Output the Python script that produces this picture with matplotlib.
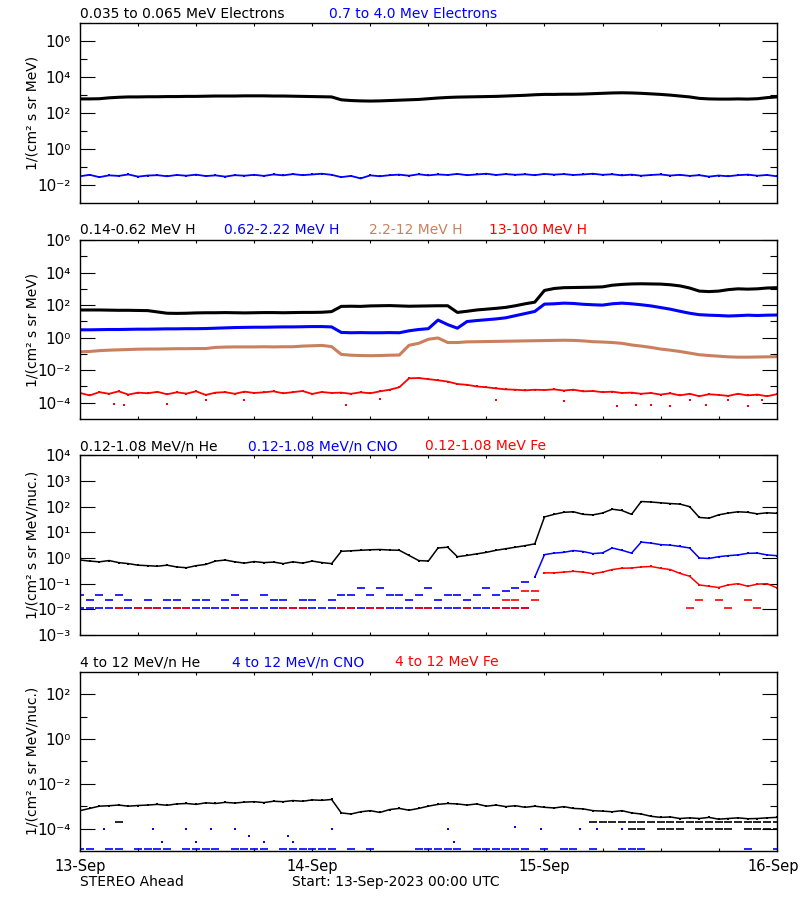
import numpy as np
import matplotlib
matplotlib.use('Agg')
import matplotlib.pyplot as plt
import matplotlib.transforms as mtransforms
from matplotlib.ticker import FixedLocator, FuncFormatter, NullFormatter

nan = np.nan

# ---------------- time axis (hours since 13-Sep-2023 00:00 UTC) ----------------
hours = np.arange(73)
day_hours = [0, 24, 48, 72]
day_labels = ['13-Sep', '14-Sep', '15-Sep', '16-Sep']

# ---------------- panel 1: electrons (log10 flux) ----------------
elec_low_log = [2.79, 2.79, 2.80, 2.85, 2.88, 2.90, 2.90, 2.91, 2.91, 2.92,
                2.92, 2.93, 2.93, 2.94, 2.95, 2.95, 2.95, 2.96, 2.96, 2.96,
                2.95, 2.95, 2.94, 2.93, 2.92, 2.91, 2.90, 2.74, 2.70, 2.68,
                2.67, 2.68, 2.70, 2.72, 2.74, 2.76, 2.80, 2.84, 2.87, 2.89,
                2.90, 2.91, 2.92, 2.93, 2.95, 2.97, 2.99, 3.02, 3.04, 3.04,
                3.05, 3.05, 3.06, 3.08, 3.10, 3.12, 3.13, 3.12, 3.10, 3.07,
                3.04, 3.00, 2.95, 2.90, 2.82, 2.79, 2.78, 2.78, 2.79, 2.78,
                2.80, 2.86, 2.90]
elec_high_log = [-1.50, -1.42, -1.55, -1.45, -1.48, -1.40, -1.52, -1.46, -1.44, -1.50,
                 -1.43, -1.47, -1.41, -1.49, -1.45, -1.52, -1.44, -1.47, -1.42, -1.48,
                 -1.40, -1.45, -1.38, -1.44, -1.40, -1.36, -1.42, -1.55, -1.48, -1.62,
                 -1.45, -1.50, -1.44, -1.41, -1.47, -1.39, -1.45, -1.40, -1.43, -1.37,
                 -1.44, -1.40, -1.36, -1.43, -1.38, -1.42, -1.39, -1.44, -1.37, -1.41,
                 -1.38, -1.43, -1.40, -1.36, -1.42, -1.39, -1.45, -1.41, -1.47, -1.43,
                 -1.40, -1.46, -1.42, -1.48, -1.44, -1.52, -1.46, -1.50, -1.44, -1.41,
                 -1.47, -1.43, -1.50]

# ---------------- panel 2: protons (log10 flux) ----------------
h_014_log = [1.70, 1.70, 1.70, 1.69, 1.68, 1.68, 1.67, 1.66, 1.58, 1.50,
             1.49, 1.50, 1.52, 1.53, 1.53, 1.54, 1.53, 1.52, 1.53, 1.54,
             1.54, 1.53, 1.54, 1.55, 1.55, 1.56, 1.60, 1.92, 1.93, 1.92,
             1.95, 1.96, 1.97, 1.95, 1.93, 1.94, 1.95, 1.96, 1.96, 1.55,
             1.62, 1.70, 1.75, 1.80, 1.86, 1.96, 2.08, 2.18, 2.90, 3.02,
             3.07, 3.08, 3.09, 3.10, 3.12, 3.22, 3.27, 3.30, 3.31, 3.30,
             3.29, 3.25, 3.18, 3.05, 2.86, 2.83, 2.86, 2.95, 3.00, 2.98,
             3.00, 3.05, 3.07]
h_062_log = [0.48, 0.48, 0.49, 0.50, 0.50, 0.51, 0.52, 0.52, 0.53, 0.54,
             0.54, 0.55, 0.55, 0.56, 0.58, 0.60, 0.62, 0.63, 0.64, 0.64,
             0.65, 0.66, 0.66, 0.67, 0.68, 0.68, 0.66, 0.32, 0.30, 0.31,
             0.30, 0.30, 0.31, 0.30, 0.42, 0.50, 0.55, 1.08, 0.80, 0.58,
             0.99, 1.05, 1.10, 1.15, 1.22, 1.35, 1.48, 1.61, 2.06, 2.08,
             2.12, 2.10, 2.05, 2.02, 2.00, 2.08, 2.12, 2.08, 2.02, 1.95,
             1.85, 1.75, 1.62, 1.50, 1.41, 1.38, 1.36, 1.33, 1.35, 1.38,
             1.36, 1.38, 1.39]
h_22_log = [-0.87, -0.85, -0.80, -0.77, -0.75, -0.73, -0.71, -0.70, -0.70, -0.69,
            -0.68, -0.68, -0.67, -0.67, -0.60, -0.58, -0.57, -0.57, -0.57, -0.56,
            -0.57, -0.56, -0.56, -0.52, -0.50, -0.48, -0.55, -1.03, -1.08, -1.10,
            -1.11, -1.10, -1.08, -1.07, -0.47, -0.35, -0.10, -0.02, -0.30, -0.30,
            -0.26, -0.25, -0.24, -0.23, -0.22, -0.21, -0.20, -0.19, -0.18, -0.17,
            -0.16, -0.17, -0.20, -0.25, -0.27, -0.30, -0.35, -0.45, -0.52, -0.60,
            -0.70, -0.77, -0.85, -0.95, -1.05, -1.10, -1.14, -1.18, -1.20, -1.20,
            -1.19, -1.18, -1.17]
h_13_log = [-3.40, -3.55, -3.35, -3.45, -3.30, -3.50, -3.38, -3.42, -3.33, -3.48,
            -3.36, -3.44, -3.30, -3.52, -3.38, -3.35, -3.45, -3.32, -3.40, -3.36,
            -3.30, -3.42, -3.35, -3.28, -3.46, -3.34, -3.40, -3.38, -3.45, -3.36,
            -3.42, -3.30, -3.20, -3.05, -2.50, -2.48, -2.55, -2.62, -2.70, -2.85,
            -2.90, -3.00, -3.05, -3.12, -3.18, -3.20, -3.24, -3.20, -3.22, -3.18,
            -3.25, -3.20, -3.30, -3.28, -3.35, -3.32, -3.40, -3.38, -3.45, -3.40,
            -3.50, -3.42, -3.55, -3.45, -3.60, -3.48, -3.52, -3.58, -3.45, -3.55,
            -3.50, -3.60, -3.48]
h_13_low_hours = [3.5, 4.5, 9, 13, 17, 27.5, 31, 43, 50, 55.5, 57.5, 59, 61, 63, 64.7, 67, 69, 70.5]
h_13_low_log = [-4.10, -4.15, -4.10, -3.85, -3.85, -4.15, -3.80, -3.85, -3.90,
                -4.18, -4.15, -4.15, -4.20, -3.85, -4.15, -3.85, -4.20, -3.85]

# ---------------- panel 3: 0.12-1.08 MeV/n heavy ions (log10 flux) ----------------
he_low_log = [-0.08, -0.12, -0.15, -0.10, -0.18, -0.22, -0.28, -0.30, -0.32, -0.28,
              -0.35, -0.38, -0.30, -0.25, -0.12, -0.08, -0.15, -0.20, -0.14, -0.18,
              -0.16, -0.22, -0.15, -0.20, -0.12, -0.18, -0.22, 0.26, 0.28, 0.30,
              0.32, 0.33, 0.31, 0.30, 0.10, -0.10, -0.12, 0.39, 0.42, 0.05,
              0.10, 0.16, 0.22, 0.30, 0.36, 0.42, 0.48, 0.55, 1.60, 1.70,
              1.78, 1.80, 1.70, 1.68, 1.75, 1.90, 1.85, 1.70, 2.20, 2.18,
              2.15, 2.12, 2.10, 2.00, 1.58, 1.55, 1.68, 1.75, 1.80, 1.78,
              1.72, 1.76, 1.74]
cno_low_log = [-1.94] * 47 + [
    -0.75, 0.13, 0.19, 0.22, 0.29, 0.25, 0.17, 0.20, 0.39, 0.30,
    0.19, 0.62, 0.58, 0.52, 0.50, 0.45, 0.39, 0.00, -0.02, 0.05,
    0.09, 0.12, 0.18, 0.19, 0.12, 0.09]
cno_low2_log = [-1.45, -1.62, -1.45, -1.62, -1.45, -1.62, nan, -1.62, nan, -1.62,
                -1.62, nan, -1.62, -1.62, nan, -1.62, -1.45, -1.62, nan, -1.45,
                -1.62, -1.62, nan, -1.62, -1.62, nan, -1.62, -1.45, -1.45, -1.16,
                -1.45, -1.16, -1.45, -1.45, -1.62, -1.45, -1.16, -1.62, -1.45, -1.45,
                -1.62, -1.45, -1.16, -1.45, -1.30, -1.16, -0.95] + [nan] * 26
fe_low_log = [nan, nan, nan, nan, -1.94, nan, -1.94, -1.94, -1.94, nan,
              -1.94, -1.94, nan, nan, nan, nan, -1.94, nan, nan, nan,
              nan, -1.94, -1.94, -1.94, nan, nan, nan, -1.94, -1.94, nan,
              -1.94, -1.94, nan, nan, nan, -1.94, -1.94, nan, nan, nan,
              -1.94, nan, nan, -1.94, -1.94, -1.94, -1.94, -1.62, -0.58, -0.58,
              -0.55, -0.52, -0.55, -0.61, -0.55, -0.45, -0.40, -0.39, -0.35, -0.33,
              -0.40, -0.45, -0.60, -0.71, -1.05, -1.10, -1.15, -1.05, -1.00, -1.10,
              -1.02, -1.00, -1.16]
fe_low2_hours = [44, 45, 46, 47, 63, 64, 66, 67, 69, 70]
fe_low2_log = [-1.62, -1.62, -1.30, -1.30, -1.94, -1.62, -1.62, -1.94, -1.62, -1.94]

# ---------------- panel 4: 4-12 MeV/n heavy ions (log10 flux) ----------------
he_high_log = [-3.20, -3.10, -3.00, -2.98, -2.95, -3.00, -2.97, -2.95, -2.92, -2.96,
               -2.90, -2.88, -2.92, -2.85, -2.88, -2.83, -2.86, -2.82, -2.80, -2.84,
               -2.78, -2.80, -2.75, -2.78, -2.72, -2.74, -2.70, -3.30, -3.35, -3.25,
               -3.20, -3.28, -3.15, -3.10, -3.18, -3.10, -3.00, -2.92, -2.88, -2.90,
               -2.95, -2.90, -3.00, -2.95, -3.02, -2.98, -3.05, -3.00, -3.05, -3.08,
               -3.02, -3.10, -3.12, -3.20, -3.22, -3.25, -3.20, -3.30, -3.35, -3.45,
               -3.50, -3.48, -3.55, -3.52, -3.55, -3.50, -3.58, -3.55, -3.52, -3.56,
               -3.55, -3.52, -3.50]
he_high_q1_log = [nan] * 4 + [-3.72] + [nan] * 48 + [-3.72] * 20
he_high_q0_log = [nan] * 57 + [-4.0, -4.0, nan, -4.0, -4.0, -4.0, nan, -4.0, -4.0,
                              -4.0, -4.0, nan, -4.0, -4.0, -4.0, -4.0]
cno_high_floor_log = [-4.91, -4.91, nan, -4.91, -4.91, nan, -4.91, -4.91, -4.91, -4.91,
                      nan, -4.91, -4.91, -4.91, -4.91, nan, -4.91, -4.91, -4.91, -4.91,
                      nan, -4.91, -4.91, -4.91, -4.91, -4.91, -4.91, nan, -4.91, nan,
                      -4.91, nan, nan, nan, nan, -4.91, -4.91, -4.91, -4.91, -4.91,
                      nan, -4.91, -4.91, -4.91, -4.91, -4.91, -4.91, nan, -4.91, nan,
                      -4.91, -4.91, nan, -4.91, nan, nan, -4.91, -4.91, -4.91, nan,
                      nan, nan, nan, nan, nan, nan, nan, nan, nan, -4.91,
                      nan, nan, -4.91]
cno_high_mid_hours = [2.5, 7.5, 8.5, 11, 12, 13.5, 16, 17.5, 19, 21.5, 22, 26, 38, 38.6, 45, 47.6, 51.7, 53.4, 56]
cno_high_mid_log = [-4.0, -4.0, -4.62, -4.0, -4.62, -4.0, -4.0, -4.35, -4.62, -4.35, -4.62,
                    -4.0, -4.0, -4.6, -3.92, -4.0, -4.0, -4.0, -4.0]

# ---------------- text ----------------
brown = '#c8805e'
panel_titles = [
    [('0.035 to 0.065 MeV Electrons', 'black', 80), ('0.7 to 4.0 Mev Electrons', 'blue', 329)],
    [('0.14-0.62 MeV H', 'black', 80), ('0.62-2.22 MeV H', 'blue', 224),
     ('2.2-12 MeV H', brown, 369), ('13-100 MeV H', 'red', 489)],
    [('0.12-1.08 MeV/n He', 'black', 80), ('0.12-1.08 MeV/n CNO', 'blue', 248),
     ('0.12-1.08 MeV Fe', 'red', 425)],
    [('4 to 12 MeV/n He', 'black', 80), ('4 to 12 MeV/n CNO', 'blue', 232),
     ('4 to 12 MeV Fe', 'red', 395)],
]
ylabels = ['1/(cm² s sr MeV)', '1/(cm² s sr MeV)',
           '1/(cm² s sr MeV/nuc.)', '1/(cm² s sr MeV/nuc.)']

SUP = str.maketrans('-0123456789', '⁻⁰¹²³⁴⁵⁶⁷⁸⁹')

def pow_label(v, pos):
    return '10' + str(int(round(np.log10(v)))).translate(SUP)

# ---------------- figure ----------------
plt.rcParams['font.family'] = ['DejaVu Sans']
W, H = 800, 900
fig = plt.figure(figsize=(8, 9), dpi=100)

# (top_px, bottom_px, ylim exponents, labelled exponents, minor exponents)
panels = [
    (23, 203.3, (-3, 7), [-2, 0, 2, 4, 6], [-1, 1, 3, 5]),
    (240, 419, (-5, 6), [-4, -2, 0, 2, 4, 6], [-3, -1, 1, 3, 5]),
    (455.3, 635, (-3, 4), [-3, -2, -1, 0, 1, 2, 3, 4], []),
    (671.7, 851, (-5, 3), [-4, -2, 0, 2], [-3, -1, 1]),
]
left_px, right_px = 80, 776.7
title_base = [18, 234, 450, 666]

def p(v):
    return 10.0 ** np.asarray(v, dtype=float)

axes = []
for i, (top, bot, lim, maj, mnr) in enumerate(panels):
    ax = fig.add_axes([left_px / W, 1 - bot / H, (right_px - left_px) / W, (bot - top) / H])
    ax.set_yscale('log')
    ax.set_ylim(10.0 ** lim[0], 10.0 ** lim[1])
    ax.set_xlim(0, 72)
    ax.yaxis.set_major_locator(FixedLocator([10.0 ** k for k in maj]))
    ax.yaxis.set_minor_locator(FixedLocator([10.0 ** k for k in mnr]))
    ax.yaxis.set_major_formatter(FuncFormatter(pow_label))
    ax.yaxis.set_minor_formatter(NullFormatter())
    ax.xaxis.set_major_locator(FixedLocator(day_hours))
    ax.xaxis.set_minor_locator(FixedLocator(list(range(0, 73, 6))))
    ax.tick_params(axis='y', which='major', direction='in', length=10.5, width=0.8,
                   left=True, right=True, labelsize=11, pad=7)
    ax.tick_params(axis='y', which='minor', direction='in', length=5, width=0.8, left=True, right=True)
    ax.tick_params(axis='x', which='both', direction='in', length=2.5, width=0.8,
                   top=True, bottom=True, labelsize=10.5, pad=6)
    if i < 3:
        ax.set_xticklabels([])
    else:
        ax.set_xticklabels(day_labels)
    for s in ax.spines.values():
        s.set_linewidth(1.0)
    ax.set_ylabel(ylabels[i], fontsize=10)
    ax.yaxis.set_label_coords(-0.058, 0.5)
    for txt, col, xpx in panel_titles[i]:
        fig.text(xpx / W, 1 - title_base[i] / H, txt, color=col, fontsize=10, ha='left', va='baseline')
    axes.append(ax)

# keep the last day label inside the canvas (shift a few pixels left)
last_lbl = axes[3].get_xticklabels()[-1]
last_lbl.set_transform(last_lbl.get_transform() +
                       mtransforms.ScaledTranslation(-4 / 100, 0, fig.dpi_scale_trans))

dot = dict(linestyle='none', marker='s', markersize=2.0, markeredgewidth=0)
dash = dict(linestyle='none', marker='_', markersize=6, markeredgewidth=1.2)

# panel 1
ax = axes[0]
ax.plot(hours, p(elec_low_log), color='black', lw=2.2, solid_joinstyle='miter')
ax.plot(hours, p(elec_high_log), color='blue', lw=1.3)
ax.plot(hours, p(elec_high_log), color='blue', **dot)

# panel 2
ax = axes[1]
ax.plot(hours, p(h_014_log), color='black', lw=2.2)
ax.plot(hours, p(h_062_log), color='blue', lw=2.2)
ax.plot(hours, p(h_22_log), color=brown, lw=2.2)
ax.plot(hours, p(h_13_log), color='red', lw=1.3)
ax.plot(hours, p(h_13_log), color='red', **dot)
ax.plot(h_13_low_hours, p(h_13_low_log), color='red', **dot)

# panel 3
ax = axes[2]
ax.plot(hours, p(he_low_log), color='black', lw=1.1)
ax.plot(hours, p(he_low_log), color='black', **dot)
ax.plot(hours[:47], p(cno_low_log[:47]), color='blue', **dash)
ax.plot(hours[47:], p(cno_low_log[47:]), color='blue', lw=1.1)
ax.plot(hours[47:], p(cno_low_log[47:]), color='blue', **dot)
ax.plot(hours, p(cno_low2_log), color='blue', **dash)
ax.plot(hours[:48], p(fe_low_log[:48]), color='red', **dash)
ax.plot(hours[48:], p(fe_low_log[48:]), color='red', lw=1.1)
ax.plot(hours[48:], p(fe_low_log[48:]), color='red', **dot)
ax.plot(fe_low2_hours, p(fe_low2_log), color='red', **dash)

# panel 4
ax = axes[3]
ax.plot(hours, p(he_high_log), color='black', lw=1.1)
ax.plot(hours, p(he_high_log), color='black', **dot)
ax.plot(hours, p(he_high_q1_log), color='black', **dash)
ax.plot(hours, p(he_high_q0_log), color='black', **dash)
ax.plot(hours, p(cno_high_floor_log), color='blue', **dash)
ax.plot(cno_high_mid_hours, p(cno_high_mid_log), color='blue', **dot)

fig.text(80 / W, 1 - 886 / H, 'STEREO Ahead', fontsize=10, ha='left', va='baseline')
fig.text(292 / W, 1 - 886 / H, 'Start: 13-Sep-2023 00:00 UTC', fontsize=10, ha='left', va='baseline')

fig.savefig('out.png', dpi=100)
